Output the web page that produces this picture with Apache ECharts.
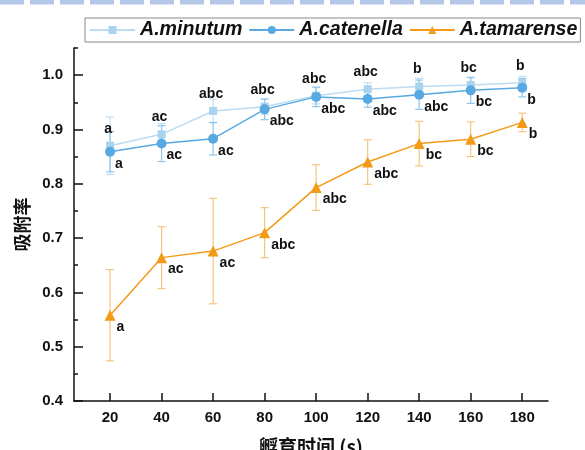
<!DOCTYPE html>
<html>
<head>
<meta charset="utf-8">
<script src="https://cdn.jsdelivr.net/npm/echarts@6/dist/echarts.min.js"></script>
<style>html,body{margin:0;padding:0;background:#fff;}#c{width:585px;height:450px;}</style>
</head>
<body>
<div id="c"></div>
<script>
const times = [20, 40, 60, 80, 100, 120, 140, 160, 180];
const xTicks = [20, 40, 60, 80, 100, 120, 140, 160, 180];
const yMajorTicks = [0.4, 0.5, 0.6, 0.7, 0.8, 0.9, 1.0];
const yMinorTicks = [0.45, 0.55, 0.65, 0.75, 0.85, 0.95, 1.05];

const minutum = [0.870, 0.891, 0.934, 0.942, 0.962, 0.974, 0.979, 0.982, 0.986];
const minutumErr = [0.053, 0.020, 0.022, 0.014, 0.015, 0.012, 0.015, 0.013, 0.012];
const minutumLetters = ['a', 'ac', 'abc', 'abc', 'abc', 'abc', 'b', 'bc', 'b'];

const catenella = [0.859, 0.874, 0.883, 0.937, 0.960, 0.956, 0.964, 0.972, 0.977];
const catenellaErr = [0.037, 0.033, 0.030, 0.019, 0.018, 0.015, 0.027, 0.024, 0.017];
const catenellaLetters = ['a', 'ac', 'ac', 'abc', 'abc', 'abc', 'abc', 'bc', 'b'];

const tamarense = [0.558, 0.664, 0.676, 0.710, 0.793, 0.840, 0.874, 0.882, 0.913];
const tamarenseErr = [0.084, 0.057, 0.097, 0.046, 0.042, 0.041, 0.041, 0.032, 0.017];
const tamarenseLetters = ['a', 'ac', 'ac', 'abc', 'abc', 'abc', 'bc', 'bc', 'b'];

const C_MIN = '#a9d3ef', C_MIN_L = '#bddcf1', C_MIN_E = '#c3e0f3';
const C_CAT = '#58a9e1', C_CAT_E = '#8ec5ec';
const C_TAM = '#f39a17', C_TAM_E = '#f7c480';

function pts(vals) { return times.map((t, i) => [t, vals[i]]); }
function errs(vals, e) { return times.map((t, i) => [t, vals[i] - e[i], vals[i] + e[i]]); }

function errRender(color) {
  return function (params, api) {
    const x = api.value(0);
    const lo = api.coord([x, api.value(1)]);
    const hi = api.coord([x, api.value(2)]);
    const w = 4;
    const st = { stroke: color, lineWidth: 1.2 };
    return {
      type: 'group',
      children: [
        { type: 'line', shape: { x1: lo[0], y1: lo[1], x2: hi[0], y2: hi[1] }, style: st },
        { type: 'line', shape: { x1: lo[0] - w, y1: lo[1], x2: lo[0] + w, y2: lo[1] }, style: st },
        { type: 'line', shape: { x1: hi[0] - w, y1: hi[1], x2: hi[0] + w, y2: hi[1] }, style: st }
      ]
    };
  };
}

const labelFont = { fontFamily: 'Liberation Sans, Arial, sans-serif', fontWeight: 'bold', fontSize: 14, color: '#111' };

const chart = echarts.init(document.getElementById('c'), null, { renderer: 'canvas' });
chart.setOption({
  animation: false,
  backgroundColor: '#fff',
  graphic: [
    { type: 'line', shape: { x1: 0, y1: 2, x2: 585, y2: 2 }, style: { stroke: '#b4c7e7', lineWidth: 5, lineDash: [24, 6] }, silent: true }
  ],
  legend: {
    left: 85, top: 18, width: 500,
    padding: [2, 3, 2, 4],
    itemGap: 6,
    itemWidth: 45, itemHeight: 10,
    borderColor: '#888', borderWidth: 1,
    data: ['A.minutum', 'A.catenella', 'A.tamarense'],
    textStyle: { fontFamily: 'Liberation Sans, Arial, sans-serif', fontWeight: 'bold', fontStyle: 'italic', fontSize: 19.6, color: '#111' }
  },
  grid: { left: 74, right: 37, top: 48, bottom: 49, containLabel: false, outerBoundsMode: 'none' },
  xAxis: {
    type: 'value', min: 6, max: 190,
    name: '孵育时间 (s)', nameLocation: 'middle', nameGap: 36,
    nameTextStyle: { fontFamily: 'Noto Sans CJK SC', fontWeight: 'bold', fontSize: 19, color: '#111' },
    axisLine: { lineStyle: { color: '#111', width: 1.5 } },
    axisTick: { inside: true, length: 8, customValues: xTicks, lineStyle: { color: '#111', width: 1.5 } },
    axisLabel: { customValues: xTicks, margin: 9, fontFamily: 'Liberation Sans, Arial, sans-serif', fontWeight: 'bold', fontSize: 15, color: '#111' },
    splitLine: { show: false }
  },
  yAxis: [
    {
      type: 'value', min: 0.4, max: 1.05,
      name: '吸附率', nameLocation: 'middle', nameGap: 40, nameRotate: 90,
      nameTextStyle: { fontFamily: 'Noto Sans CJK SC', fontWeight: 'bold', fontSize: 18, color: '#111' },
      axisLine: { show: true, lineStyle: { color: '#111', width: 1.5 } },
      axisTick: { inside: true, length: 9, customValues: yMajorTicks, lineStyle: { color: '#111', width: 1.5 } },
      axisLabel: { customValues: yMajorTicks, margin: 11, formatter: v => v.toFixed(1), fontFamily: 'Liberation Sans, Arial, sans-serif', fontWeight: 'bold', fontSize: 15, color: '#111' },
      splitLine: { show: false }
    },
    {
      type: 'value', min: 0.4, max: 1.05, position: 'left',
      axisLine: { show: false },
      axisTick: { show: true, inside: true, length: 4, customValues: yMinorTicks, lineStyle: { color: '#111', width: 1.5 } },
      axisLabel: { show: false },
      splitLine: { show: false }
    }
  ],
  series: [
    { type: 'custom', name: 'err-min', renderItem: errRender(C_MIN_E), data: errs(minutum, minutumErr), encode: { x: 0, y: [1, 2] }, z: 1, silent: true },
    { type: 'custom', name: 'err-cat', renderItem: errRender(C_CAT_E), data: errs(catenella, catenellaErr), encode: { x: 0, y: [1, 2] }, z: 1, silent: true },
    { type: 'custom', name: 'err-tam', renderItem: errRender(C_TAM_E), data: errs(tamarense, tamarenseErr), encode: { x: 0, y: [1, 2] }, z: 1, silent: true },
    {
      type: 'line', name: 'A.minutum', data: pts(minutum), z: 3,
      symbol: 'rect', symbolSize: 8,
      itemStyle: { color: C_MIN },
      lineStyle: { color: C_MIN_L, width: 1.5 },
      label: Object.assign({ show: true, position: 'top', distance: 6, offset: [-2, 0], formatter: p => minutumLetters[p.dataIndex] }, labelFont)
    },
    {
      type: 'line', name: 'A.catenella', data: pts(catenella), z: 4,
      symbol: 'circle', symbolSize: 10,
      itemStyle: { color: C_CAT },
      lineStyle: { color: C_CAT, width: 1.5 },
      label: Object.assign({ show: true, position: 'right', distance: 0, offset: [0, 12], formatter: p => catenellaLetters[p.dataIndex] }, labelFont)
    },
    {
      type: 'line', name: 'A.tamarense', data: pts(tamarense), z: 4,
      symbol: 'triangle', symbolSize: 11,
      itemStyle: { color: C_TAM },
      lineStyle: { color: C_TAM, width: 1.5 },
      label: Object.assign({ show: true, position: 'right', distance: 1, offset: [0, 12], formatter: p => tamarenseLetters[p.dataIndex] }, labelFont)
    }
  ]
});
</script>
</body>
</html>
